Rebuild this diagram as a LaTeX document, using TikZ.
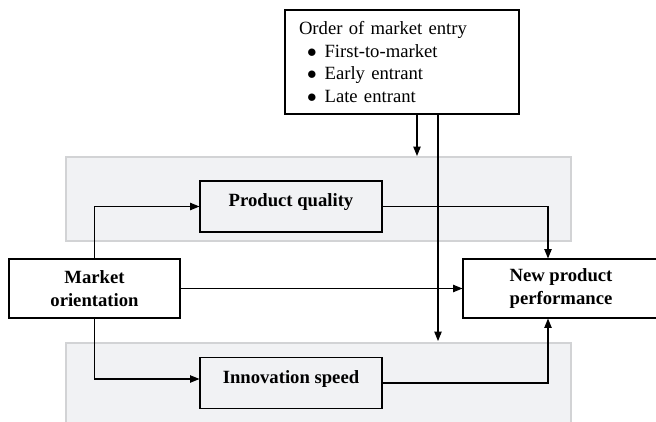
\documentclass[tikz,border=0pt]{standalone}
\usepackage{fontspec}
\setmainfont{Liberation Serif}
\usetikzlibrary{arrows.meta}

\definecolor{panelfill}{HTML}{F1F2F4}
\definecolor{panelline}{HTML}{D2D3D5}

\tikzset{
  box/.style={draw, line width=0.8pt, align=center, inner xsep=4pt, font=\fontsize{14}{17}\selectfont\bfseries},
  midbox/.style={box, inner ysep=0pt, text height=19.125pt, text depth=19.125pt, minimum width=136.5pt},
  panel/.style={fill=panelfill, draw=panelline, line width=1.2pt},
  link/.style={line width=0.8pt, -{Triangle[length=7pt,width=5.5pt]}}
}

\begin{document}
\begin{tikzpicture}[x=0.75pt, y=-0.75pt]
  \useasboundingbox (0,0) rectangle (656,421);

  % Grey bands
  \draw[panel] (66,157) rectangle (571,241);
  \draw[panel] (66,343) rectangle (571,430);

  % Boxes
  \node[draw, line width=0.8pt, align=left, text width=154.5pt, inner xsep=10.5pt,
        minimum height=78pt, font=\fontsize{14}{17}\selectfont] (entry) at (402,62)
    {Order of market entry\\
     \hspace*{6pt}$\bullet$\hspace{6pt}First-to-market\\
     \hspace*{6pt}$\bullet$\hspace{6pt}Early entrant\\
     \hspace*{6pt}$\bullet$\hspace{6pt}Late entrant};

  \node[box, minimum width=128.25pt, minimum height=44.25pt] (market) at (94.5,288.5) {Market\\orientation};
  \node[box, minimum width=147pt, minimum height=44.25pt] (perf) at (561,288.5) {New product\\performance};

  \node[midbox] (quality) at (291,206.5) {Product quality};
  \node[midbox] (speed) at (291,383) {Innovation speed};

  % Free ends of the moderator arrows
  \coordinate (qtop) at (417,156);
  \coordinate (stop) at (438,341);

  % Connectors
  \draw[link] (market.north) |- (quality.west);
  \draw[link] (market.south) |- ([yshift=3pt]speed.west);
  \draw[link] (market.east) -- (perf.west);
  \draw[link] (quality.east) -| ([xshift=-9.75pt]perf.north);
  \draw[link] (speed.east) -| ([xshift=-9.75pt]perf.south);
  \draw[link] (entry.south -| qtop) -- (qtop); % onto the upper band
  \draw[link] (entry.south -| stop) -- (stop); % down to the lower band
\end{tikzpicture}
\end{document}
